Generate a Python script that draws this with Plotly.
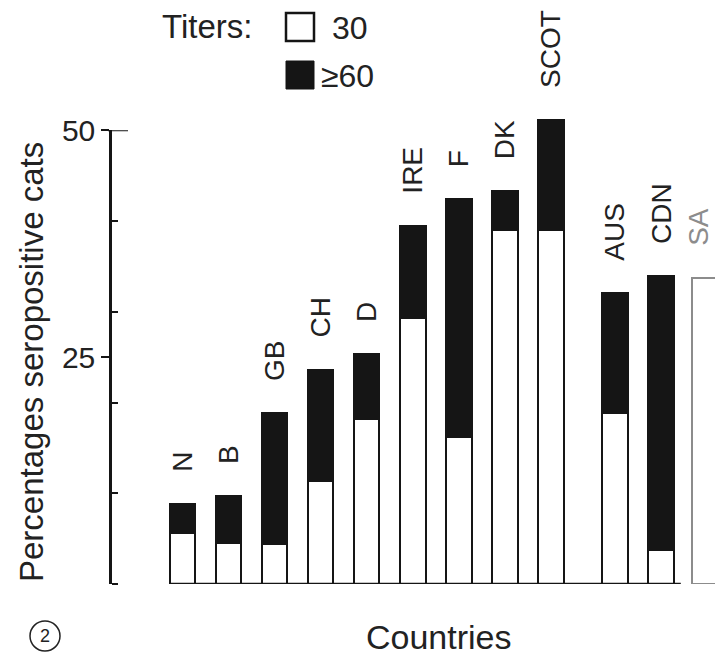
import plotly.graph_objects as go

# ---------------- data ----------------
countries = ["N", "B", "GB", "CH", "D", "IRE", "F", "DK", "SCOT", "AUS", "CDN", "SA"]
titer_30 = [5.6, 4.5, 4.4, 11.3, 18.2, 29.3, 16.2, 39.0, 39.0, 18.8, 3.7, 33.7]
titer_60 = [3.2, 5.2, 14.4, 12.3, 7.1, 10.2, 26.2, 4.3, 12.1, 13.3, 30.3, None]
y_tick_vals = [25, 50]
y_tick_text = ["25", "50"]
y_minor_vals = [0, 10, 20, 30, 40]

# ---------------- layout helpers ----------------
bar_slots = [0, 1, 2, 3, 4, 5, 6, 7, 8, 9.4, 10.4, 11.35]   # horizontal slot of each bar
BAR_W = 0.565
W, H = 715, 655
ML, MR, MT, MB = 110, 0, 85, 71
PW, PH = W - ML - MR, H - MT - MB


def px(xp):
    return (xp - ML) / PW


def py(yp):
    return (H - MB - yp) / PH


INK = "#151515"
FONT = "Liberation Sans, Arial, sans-serif"

totals = [a + (b or 0) for a, b in zip(titer_30, titer_60)]
edge_cols = [INK] * (len(countries) - 1) + ["#8c8c8c"]

fig = go.Figure()
fig.add_trace(go.Bar(
    x=bar_slots, y=titer_30, width=BAR_W, name="30",
    marker=dict(color="white", line=dict(color=edge_cols, width=2.5)),
    hoverinfo="skip", showlegend=False,
))
fig.add_trace(go.Bar(
    x=bar_slots, y=titer_60, width=BAR_W, name="≥60",
    marker=dict(color=INK, line=dict(color=INK, width=2)),
    hoverinfo="skip", showlegend=False,
))
# invisible trace to carry the visible y axis (0..50)
fig.add_trace(go.Scatter(
    x=[bar_slots[0]], y=[0], yaxis="y2", mode="markers",
    marker=dict(opacity=0), showlegend=False, hoverinfo="skip",
))

annotations = []
for c, xs, t in zip(countries, bar_slots, totals):
    annotations.append(dict(
        x=xs, y=t, xref="x", yref="y", text=c, showarrow=False,
        textangle=-90, xanchor="center", yanchor="bottom", yshift=30,
        xshift=-6 if c == "SA" else 0,
        font=dict(family=FONT, size=28, color="#8c8c8c" if c == "SA" else "#222"),
    ))

annotations += [
    dict(x=px(31), y=py(362), xref="paper", yref="paper", text="Percentages seropositive cats",
         textangle=-90, showarrow=False, xanchor="center", yanchor="middle",
         font=dict(family=FONT, size=33, color="#222")),
    dict(x=px(439), y=py(637), xref="paper", yref="paper", text="Countries",
         showarrow=False, xanchor="center", yanchor="middle",
         font=dict(family=FONT, size=34, color="#222")),
    dict(x=px(254), y=py(26), xref="paper", yref="paper", text="Titers:",
         showarrow=False, xanchor="right", yanchor="middle",
         font=dict(family=FONT, size=33, color="#222")),
    dict(x=px(330), y=py(28), xref="paper", yref="paper", text="30",
         showarrow=False, xanchor="left", yanchor="middle",
         font=dict(family=FONT, size=32, color="#222")),
    dict(x=px(319), y=py(76), xref="paper", yref="paper", text="≥60",
         showarrow=False, xanchor="left", yanchor="middle",
         font=dict(family=FONT, size=32, color="#222")),
    dict(x=px(45), y=py(636), xref="paper", yref="paper", text="2",
         showarrow=False, xanchor="center", yanchor="middle",
         font=dict(family=FONT, size=18, color="#222")),
]

shapes = [
    dict(type="line", xref="x", yref="y", layer="above",
         x0=bar_slots[0] - BAR_W / 2, x1=bar_slots[-2] + BAR_W / 2 + 0.15, y0=0, y1=0,
         line=dict(color=INK, width=2.5)),
    # top tick of the axis also reaches into the plot
    dict(type="line", xref="paper", yref="y2",
         x0=px(108), x1=px(128), y0=y_tick_vals[-1], y1=y_tick_vals[-1],
         line=dict(color=INK, width=2)),
    dict(type="rect", xref="paper", yref="paper",
         x0=px(286), x1=px(314), y0=py(41), y1=py(13),
         line=dict(color=INK, width=2.5), fillcolor="white"),
    dict(type="rect", xref="paper", yref="paper",
         x0=px(286), x1=px(314), y0=py(89), y1=py(61),
         line=dict(color=INK, width=1), fillcolor=INK),
    dict(type="circle", xref="paper", yref="paper",
         x0=px(30), x1=px(60), y0=py(651), y1=py(621),
         line=dict(color="#222", width=1.5)),
]

fig.update_layout(
    width=W, height=H,
    margin=dict(l=ML, r=MR, t=MT, b=MB, pad=0),
    paper_bgcolor="white", plot_bgcolor="rgba(0,0,0,0)",
    barmode="stack", bargap=0,
    xaxis=dict(range=[-1.576, 11.576], visible=False, domain=[0, 1], anchor="y"),
    yaxis=dict(range=[0, 55], visible=False, domain=[0, 1]),
    yaxis2=dict(
        range=[0, 50], domain=[0, 50 / 55], anchor="free", position=0,
        showline=True, linecolor=INK, linewidth=2.5,
        tickmode="array", tickvals=y_tick_vals, ticktext=y_tick_text,
        ticks="outside", ticklen=8, tickwidth=2, tickcolor=INK,
        tickfont=dict(family=FONT, size=30, color="#222"),
        minor=dict(tickmode="array", tickvals=y_minor_vals, ticks="inside",
                   ticklen=6, tickwidth=2, tickcolor=INK, showgrid=False),
        showgrid=False, zeroline=False,
    ),
    annotations=annotations,
    shapes=shapes,
)

fig.write_html("out.html", config={"displayModeBar": False},
               post_script="document.body.style.margin='0px';")
